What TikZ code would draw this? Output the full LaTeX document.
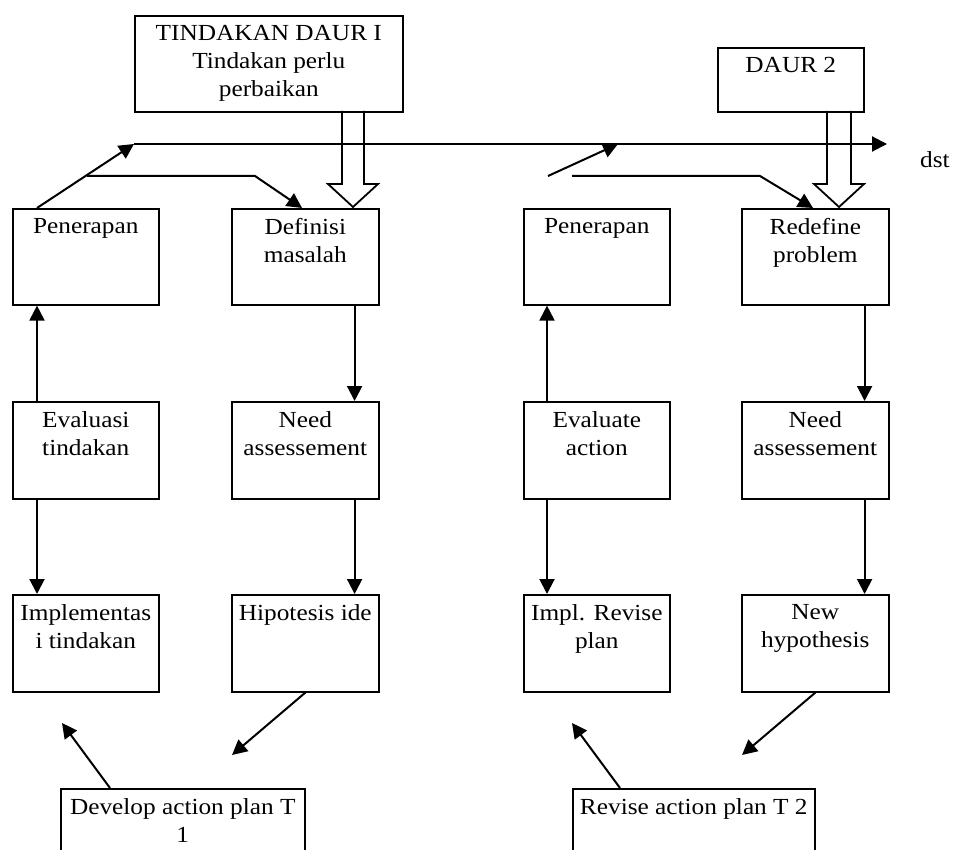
\documentclass[tikz,border=0pt]{standalone}
\usepackage{fontspec}
\setmainfont[FakeStretch=1.1]{Liberation Serif}
\usetikzlibrary{arrows.meta,calc}
\tikzset{
  box/.style={draw, line width=1.6pt, anchor=north west, inner sep=0pt},
  txt/.style={font=\fontsize{23}{28}\selectfont, align=center, inner sep=0pt, anchor=north},
  arr/.style={line width=2pt, -{Triangle[length=15pt,width=15pt]}},
  hollow/.style={line width=1.8pt, line join=miter}
}
\newcommand{\bx}[6]{% name, x, y, w, h, text
  \node[box, minimum width=#4pt, minimum height=#5pt] (#1) at (#2,#3) {};
  \node[txt] (#1t) at ($(#1.north)+(0,10)$) {#6};
}
\begin{document}
\begin{tikzpicture}[x=1pt,y=-1pt]
\useasboundingbox (0,0) rectangle (957,850);
\clip (0,0) rectangle (957,850);
% top boxes
\bx{tind}{134}{15}{268}{96}{TINDAKAN DAUR I\\Tindakan perlu\\perbaikan}
\bx{daur}{717}{47}{146}{64}{DAUR 2}
% cycle 1
\bx{pen1}{12}{208}{146}{96}{Penerapan}
\bx{def1}{231}{208}{147}{96}{Definisi\\masalah}
\bx{eva1}{12}{401}{146}{97}{Evaluasi\\tindakan}
\bx{need1}{231}{401}{147}{97}{Need\\assessement}
\bx{imp1}{12}{594}{146}{97}{Implementas\\i tindakan}
\bx{hip1}{231}{594}{147}{97}{Hipotesis ide}
\bx{dev}{60}{788}{244}{90}{Develop action plan T\\1}
% cycle 2
\bx{pen2}{523}{208}{146}{96}{Penerapan}
\bx{red2}{741}{208}{147}{96}{Redefine\\problem}
\bx{eva2}{523}{401}{146}{97}{Evaluate\\action}
\bx{need2}{741}{401}{147}{97}{Need\\assessement}
\bx{imp2}{523}{594}{146}{97}{Impl. Revise\\plan}
\bx{new2}{741}{594}{147}{97}{New\\hypothesis}
\bx{rev}{572}{788}{242}{90}{Revise action plan T 2}
% dst
\node[font=\fontsize{23}{28}\selectfont, inner sep=0pt, anchor=base west] (dst) at (920,168) {dst};
% free coordinates
\coordinate (h1) at (134,144);
\coordinate (h2) at (887,144);
\coordinate (b1) at (87,176);
\coordinate (b2) at (255,176);
\coordinate (c1) at (548,176);
\coordinate (c2) at (618,144);
\coordinate (d1) at (572,176);
\coordinate (d2) at (760,176);
\coordinate (e1) at (232,755);
\coordinate (e2) at (62,723);
\coordinate (f1) at (742,755);
\coordinate (f2) at (572,723);
% top connectors
\draw[arr] ([xshift=25pt]pen1.north west) -- (h1);
\draw[arr] (h1) -- (h2);
\draw[arr] (b1) -- (b2) -- ([xshift=71pt]def1.north west);
\draw[arr] (c1) -- (c2);
\draw[arr] (d1) -- (d2) -- ([xshift=72pt]red2.north west);
% hollow arrows
\draw[hollow] (342,111) -- (342,184) -- (328,184) -- (353,207) -- (378,184) -- (364,184) -- (364,111);
\draw[hollow] (827,111) -- (827,184) -- (814,184) -- (839,207) -- (864,184) -- (851,184) -- (851,111);
% vertical arrows cycle 1
\draw[arr] ([xshift=25pt]eva1.north west) -- ([xshift=25pt]pen1.south west);
\draw[arr] ([xshift=25pt]eva1.south west) -- ([xshift=25pt]imp1.north west);
\draw[arr] ([xshift=-25pt]def1.south east) -- ([xshift=-25pt]need1.north east);
\draw[arr] ([xshift=-25pt]need1.south east) -- ([xshift=-25pt]hip1.north east);
% vertical arrows cycle 2
\draw[arr] ([xshift=24pt]eva2.north west) -- ([xshift=24pt]pen2.south west);
\draw[arr] ([xshift=24pt]eva2.south west) -- ([xshift=24pt]imp2.north west);
\draw[arr] ([xshift=-25pt]red2.south east) -- ([xshift=-25pt]need2.north east);
\draw[arr] ([xshift=-25pt]need2.south east) -- ([xshift=-25pt]new2.north east);
% bottom diagonals
\draw[arr] (hip1.south) -- (e1);
\draw[arr] ([xshift=50pt]dev.north west) -- (e2);
\draw[arr] (new2.south) -- (f1);
\draw[arr] ([xshift=48pt]rev.north west) -- (f2);
\end{tikzpicture}
\end{document}
